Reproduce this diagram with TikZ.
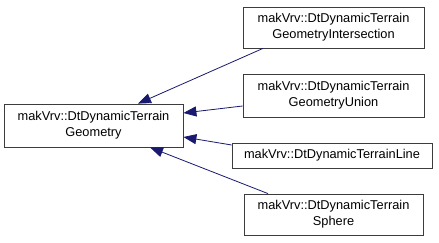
\documentclass[tikz,border=0pt]{standalone}
\usepackage{fontspec}
\setmainfont{Liberation Sans}
\usetikzlibrary{arrows.meta, positioning}
\definecolor{edgeblue}{RGB}{25,25,112}
\definecolor{boxgray}{RGB}{60,60,60}

\begin{document}
\begin{tikzpicture}[x=1pt, y=-1pt,
  every node/.style={font=\fontsize{12.8}{15.8}\selectfont},
  classbox/.style={draw=boxgray, fill=white, align=center, inner sep=0pt, line width=0.8pt},
  inherit/.style={edgeblue, line width=0.8pt, {Triangle[length=13pt, width=10pt]}-}]
  % Canvas
  \useasboundingbox[fill=white] (0,0) rectangle (439,243);
  % Base class
  \node[classbox, minimum width=179pt, minimum height=43pt] (geom) at (93.5,125.5)
    {makVrv::DtDynamicTerrain\\Geometry};
  % Derived classes
  \node[classbox, minimum width=181pt, minimum height=41pt] (inter) at (333.5,27.5)
    {makVrv::DtDynamicTerrain\\GeometryIntersection};
  \node[classbox, minimum width=181pt, minimum height=43pt] (union) at (333.5,95.5)
    {makVrv::DtDynamicTerrain\\GeometryUnion};
  \node[classbox, minimum width=200pt, minimum height=25pt] (line) at (332,155.5)
    {makVrv::DtDynamicTerrainLine};
  \node[classbox, minimum width=179pt, minimum height=41pt] (sphere) at (333.5,214.5)
    {makVrv::DtDynamicTerrain\\Sphere};
  % Inheritance edges
  \draw[inherit] (geom.north -| 138,0) -- (inter.south -| 263,0);
  \draw[inherit] (geom.east |- 0,113) -- (union.west |- 0,106);
  \draw[inherit] (geom.east |- 0,137) -- (line.west |- 0,145);
  \draw[inherit] (geom.south -| 150,0) -- (sphere.north -| 268,0);
\end{tikzpicture}
\end{document}
